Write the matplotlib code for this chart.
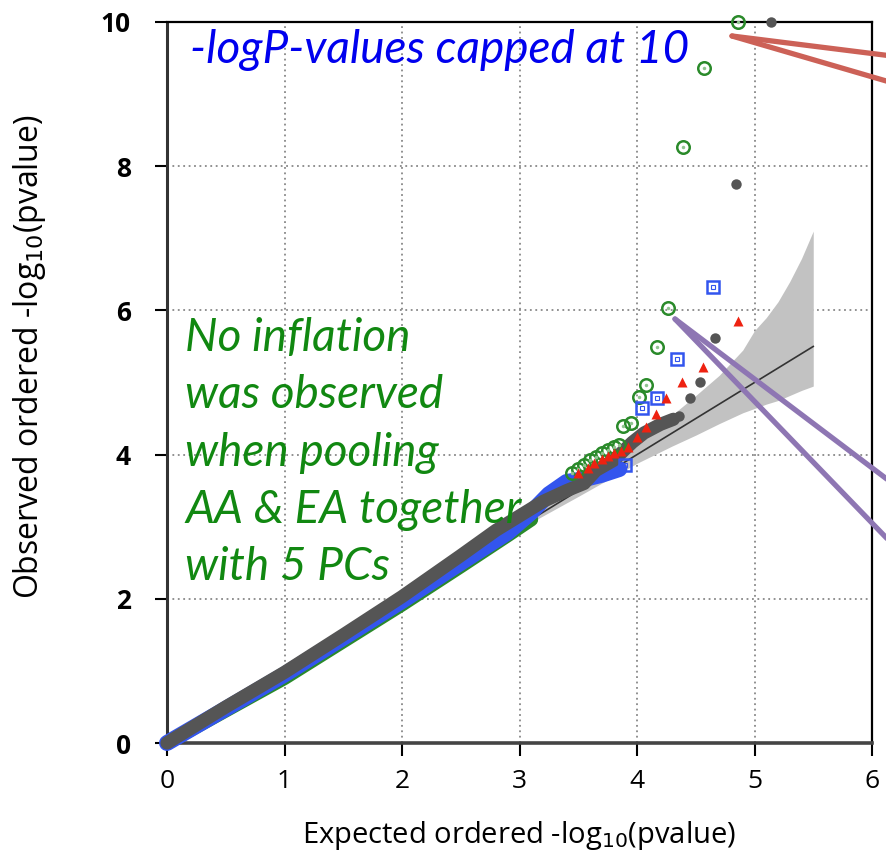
import matplotlib
matplotlib.use("Agg")
import matplotlib.pyplot as plt
from matplotlib.lines import Line2D

# expected vs observed -log10(p)
# main body of the QQ curve (dense overlapping points)
body_gray_x = [0.0, 0.5, 1.0, 1.5, 2.0, 2.5, 2.8, 3.0, 3.2, 3.4, 3.55, 3.65, 3.8, 3.96, 4.06, 4.2, 4.31]
body_gray_y = [0.0, 0.5, 0.98, 1.5, 2.03, 2.6, 2.95, 3.15, 3.35, 3.5, 3.6, 3.78, 3.92, 4.17, 4.3, 4.42, 4.49]
body_blue_x = [0.0, 1.0, 2.0, 2.5, 2.9, 3.1, 3.25, 3.4, 3.55, 3.7, 3.85]
body_blue_y = [0.0, 0.95, 1.97, 2.5, 2.92, 3.2, 3.45, 3.62, 3.66, 3.72, 3.8]
body_green_x = [0.0, 1.0, 2.0, 2.5, 2.9, 3.1]
body_green_y = [0.0, 0.9, 1.92, 2.45, 2.88, 3.1]

# tail points per series
green_x = [3.45, 3.5, 3.55, 3.6, 3.65, 3.7, 3.75, 3.8, 3.85, 3.88, 3.95, 4.02, 4.08, 4.17, 4.26, 4.39, 4.57, 4.86]
green_y = [3.74, 3.8, 3.86, 3.92, 3.97, 4.02, 4.06, 4.1, 4.14, 4.4, 4.44, 4.8, 4.96, 5.49, 6.04, 8.26, 9.36, 10.0]
blue_x = [3.9, 4.04, 4.17, 4.34, 4.65]
blue_y = [3.85, 4.65, 4.78, 5.32, 6.32]
red_x = [3.5, 3.58, 3.63, 3.7, 3.75, 3.8, 3.86, 3.92, 4.0, 4.08, 4.16, 4.25, 4.38, 4.56, 4.86]
red_y = [3.74, 3.82, 3.89, 3.94, 3.98, 4.02, 4.05, 4.1, 4.25, 4.38, 4.57, 4.79, 5.0, 5.21, 5.85]
gray_x = [4.36, 4.45, 4.54, 4.66, 4.84, 5.14]
gray_y = [4.53, 4.78, 5.01, 5.62, 7.76, 10.0]

# 95% band around the null line
band_x = [2.5, 3.0, 3.5, 4.0, 4.3, 4.5, 4.7, 4.9, 5.0, 5.1, 5.2, 5.3, 5.4, 5.5]
band_hi = [2.53, 3.07, 3.59, 4.19, 4.55, 4.82, 5.1, 5.45, 5.72, 5.9, 6.12, 6.4, 6.72, 7.1]
band_lo = [2.47, 2.97, 3.42, 3.88, 4.12, 4.27, 4.43, 4.58, 4.64, 4.7, 4.75, 4.82, 4.89, 4.95]
null_x = [0.0, 5.5]

x_ticks = [0, 1, 2, 3, 4, 5, 6]
y_ticks = [0, 2, 4, 6, 8, 10]

green_txt = ["No inflation", "was observed", "when pooling", "AA & EA together", "with 5 PCs"]

GREEN = "#2a8a2a"
BLUE = "#3355ee"
RED = "#ee2211"
GRAY = "#555555"

W, H = 886, 865
fig = plt.figure(figsize=(W / 100, H / 100), dpi=100)
ax = fig.add_axes([167 / W, 1 - 743 / H, 705 / W, 721 / H])

ax.set_xlim(0, 6)
ax.set_ylim(0, 10)
ax.set_xticks(x_ticks)
ax.set_yticks(y_ticks)
ax.grid(True, color="#888888", linestyle=(0, (1, 2)), linewidth=1.3)
ax.set_axisbelow(True)

ax.fill_between(band_x, band_lo, band_hi, color="#c2c2c2", linewidth=0, zorder=1)
ax.plot(null_x, null_x, color="#333333", lw=1.2, zorder=2)

ax.plot(body_green_x, body_green_y, color=GREEN, lw=10, solid_capstyle="round", zorder=3, clip_on=False)
ax.plot(body_blue_x, body_blue_y, color=BLUE, lw=11.5, solid_capstyle="round", zorder=4, clip_on=False)
ax.plot(body_gray_x, body_gray_y, color=GRAY, lw=9.5, solid_capstyle="round", zorder=5, clip_on=False)

ax.plot(green_x, green_y, "o", ms=9, mfc="none", mec=GREEN, mew=1.8, zorder=6, clip_on=False)
ax.plot(green_x, green_y, "o", ms=2.5, mfc="#8fc48f", mec="none", zorder=6, clip_on=False)
ax.plot(blue_x, blue_y, "s", ms=9, mfc="none", mec=BLUE, mew=1.8, zorder=6)
ax.plot(blue_x, blue_y, "s", ms=3, mfc="none", mec=BLUE, mew=0.8, zorder=6)
ax.plot(red_x, red_y, "^", ms=7, color=RED, mec="none", zorder=6)
ax.plot(gray_x, gray_y, "o", ms=7.5, color=GRAY, mec="none", zorder=7, clip_on=False)

for s in ["top", "right"]:
    ax.spines[s].set_linewidth(1.6)
ax.spines["left"].set_linewidth(2.2)
ax.spines["bottom"].set_linewidth(2.6)
ax.spines["left"].set_color("#333333")
ax.spines["bottom"].set_color("#444444")
ax.tick_params(direction="out", length=9, width=1.5, pad=10, labelsize=19)
ax.tick_params(axis="y", pad=17, labelsize=19)
for lab in ax.get_xticklabels() + ax.get_yticklabels():
    lab.set_fontfamily("Open Sans")
for lab in ax.get_yticklabels():
    lab.set_fontweight("bold")

fig.text(519 / W, 1 - 835 / H, "Expected ordered -log$_{10}$(pvalue)",
         ha="center", va="center", fontsize=21, family="Open Sans")
fig.text(30 / W, 1 - 357 / H, "Observed ordered -log$_{10}$(pvalue)",
         ha="center", va="center", rotation=90, fontsize=23, family="Open Sans")

fig.text(190 / W, 1 - 50 / H, "-logP-values capped at 10", color="#0000ee",
         style="italic", fontsize=33, family="Lato", ha="left", va="center")
for i, t in enumerate(green_txt):
    fig.text(185 / W, 1 - (338 + 57.3 * i) / H, t, color="#118811",
             style="italic", fontsize=33, family="Lato", ha="left", va="center")

# pointer lines running off the right edge
def pointer(x0, y0, x1, y1, color):
    fig.add_artist(Line2D([x0 / W, x1 / W], [1 - y0 / H, 1 - y1 / H],
                          color=color, lw=3.8, solid_capstyle="round"))

pointer(732, 36, 900, 57, "#cc6157")
pointer(732, 36, 900, 85, "#cc6157")
pointer(675, 319, 900, 489, "#8e76b3")
pointer(675, 319, 900, 552, "#8e76b3")

fig.savefig("out.png", dpi=100)
